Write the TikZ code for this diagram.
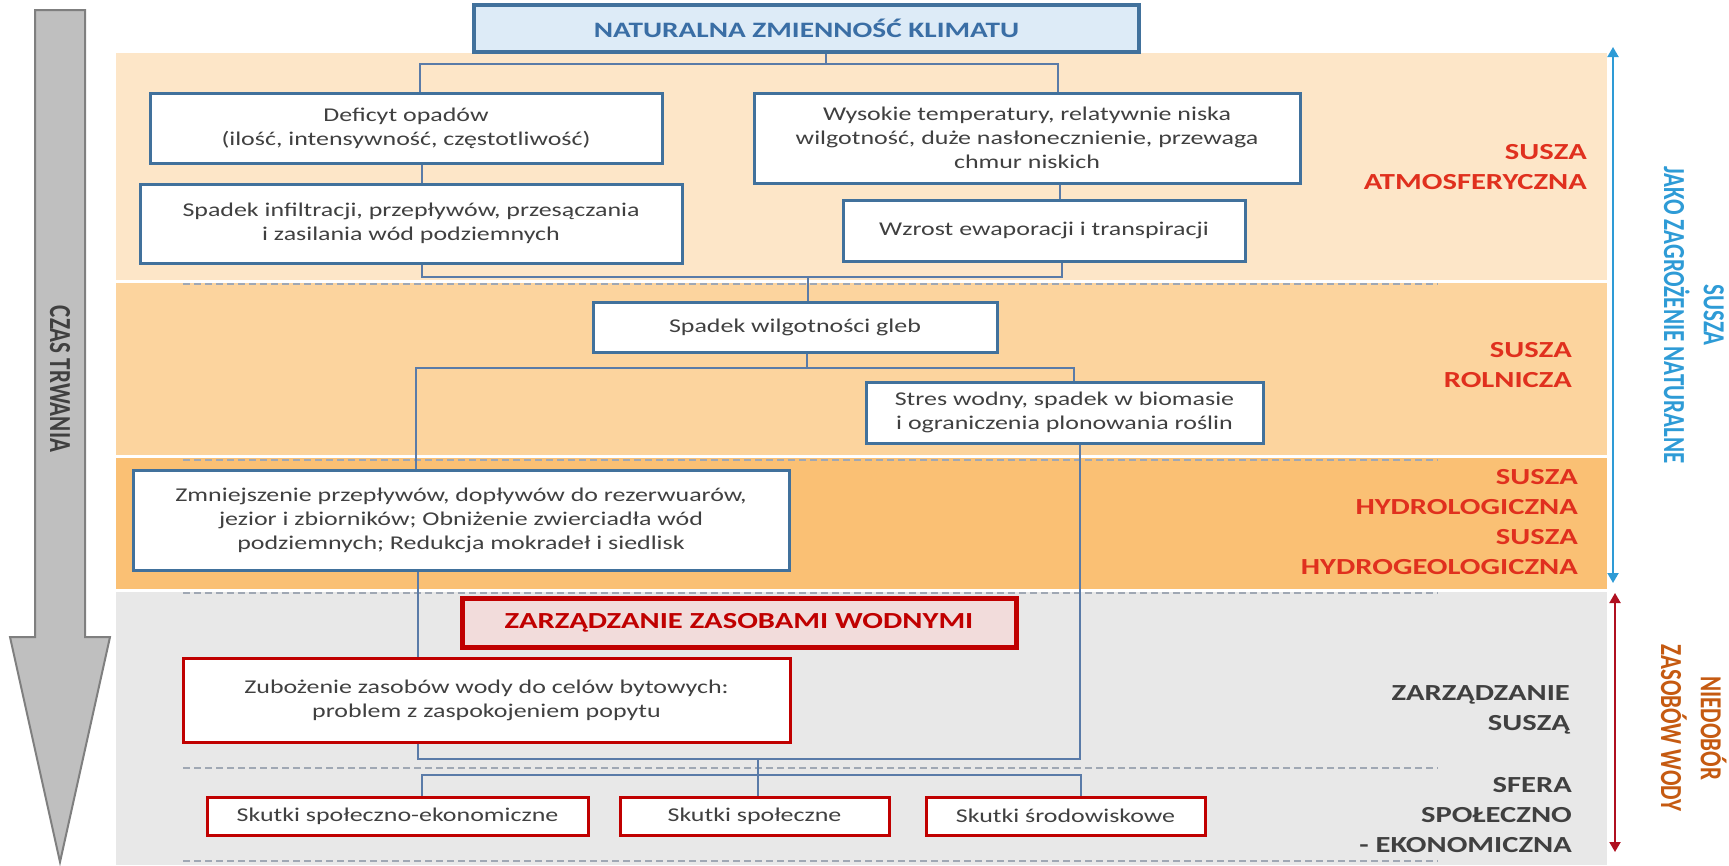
\documentclass[tikz,border=0pt]{standalone}
\usepackage{fontspec}
\setmainfont{Carlito}[FakeStretch=1.33]
\newfontfamily\rotfont{Carlito}
\usepackage{graphicx}
\usepackage{xcolor}
\usetikzlibrary{arrows.meta}
\definecolor{bandA}{HTML}{FDE6C8}
\definecolor{bandB}{HTML}{FCD49E}
\definecolor{bandC}{HTML}{FAC074}
\definecolor{bandD}{HTML}{E8E8E8}
\definecolor{boxblue}{HTML}{41719C}
\definecolor{titleblue}{HTML}{3A6EA5}
\definecolor{lightblue}{HTML}{DDEBF7}
\definecolor{darkred}{HTML}{C00000}
\definecolor{pinkfill}{HTML}{F2DCDB}
\definecolor{labelred}{HTML}{E0301E}
\definecolor{textgrey}{HTML}{404040}
\definecolor{linkblue}{HTML}{5A7BA8}
\definecolor{arrowblue}{HTML}{2E9BD6}
\definecolor{arrowred}{HTML}{B01020}
\definecolor{brownorange}{HTML}{C55A11}
\definecolor{shaftgrey}{HTML}{BFBFBF}
\definecolor{edgegrey}{HTML}{7F7F7F}
\definecolor{dashgrey}{HTML}{A0A8B4}

\begin{document}
\begin{tikzpicture}[x=1pt,y=-1pt]
\tikzstyle{every node}=[font=\fontsize{19.5}{24}\selectfont, text=textgrey, inner sep=0pt, align=center]
\tikzstyle{titlebox}=[draw=boxblue, line width=3.5pt, fill=lightblue, text=titleblue, font=\bfseries\fontsize{22}{26}\selectfont]
\tikzstyle{bluebox}=[draw=boxblue, line width=3pt, fill=white]
\tikzstyle{redbox}=[draw=darkred, line width=3pt, fill=white]
\tikzstyle{mgmtbox}=[draw=darkred, line width=5pt, fill=pinkfill, text=darkred, font=\bfseries\fontsize{23}{27}\selectfont]
\tikzstyle{link}=[draw=linkblue, line width=1.5pt]
\tikzstyle{bandline}=[draw=dashgrey, line width=1.5pt, dash pattern=on 7pt off 4pt]
\tikzstyle{phase}=[anchor=east, align=right, font=\bfseries\fontsize{23}{30}\selectfont]
\tikzstyle{sidetext}=[rotate=-90, font=\rotfont\bfseries\fontsize{23}{30}\selectfont]
\useasboundingbox (0,0) rectangle (1729,865);

% bands
\fill[bandA] (116,53) rectangle (1607,280);
\fill[bandB] (116,283) rectangle (1607,455);
\fill[bandC] (116,458) rectangle (1607,589);
\fill[bandD] (116,592) rectangle (1607,865);
\draw[bandline] (183,284) -- (1438,284);
\draw[bandline] (183,460) -- (1438,460);
\draw[bandline] (183,593) -- (1438,593);
\draw[bandline] (183,768) -- (1438,768);
\draw[bandline] (183,861) -- (1438,861);

% time arrow
\draw[draw=edgegrey, fill=shaftgrey, line width=2pt] (35,10) -- (85,10) -- (85,637) -- (110,637) -- (60,862) -- (10,637) -- (35,637) -- cycle;
\node[sidetext] (czas) at (60,379) {\scalebox{1}[1.33]{CZAS TRWANIA}};

% boxes
\node[titlebox, minimum width=665, minimum height=47] (klimat) at (806.5,28.5) {NATURALNA ZMIENNOŚĆ KLIMATU};
\node[bluebox, minimum width=512, minimum height=70] (opady) at (406,128) {Deficyt opadów\\(ilość, intensywność, częstotliwość)};
\node[bluebox, minimum width=542, minimum height=79] (infiltracja) at (411,223.5) {Spadek infiltracji, przepływów, przesączania\\i zasilania wód podziemnych};
\node[bluebox, minimum width=546, minimum height=90] (temperatura) at (1027,138) {Wysokie temperatury, relatywnie niska\\wilgotność, duże nasłonecznienie, przewaga\\chmur niskich};
\node[bluebox, minimum width=402, minimum height=61] (ewaporacja) at (1044,230.5) {Wzrost ewaporacji i transpiracji};
\node[bluebox, minimum width=404, minimum height=50] (gleba) at (795,327) {Spadek wilgotności gleb};
\node[bluebox, minimum width=397, minimum height=61] (stres) at (1064.5,412.5) {Stres wodny, spadek w biomasie\\i ograniczenia plonowania roślin};
\node[bluebox, minimum width=656, minimum height=100] (przeplywy) at (461,520) {Zmniejszenie przepływów, dopływów do rezerwuarów,\\jezior i zbiorników; Obniżenie zwierciadła wód\\podziemnych; Redukcja mokradeł i siedlisk};
\node[mgmtbox, minimum width=554, minimum height=49] (zarzadzanie) at (739,622.5) {ZARZĄDZANIE ZASOBAMI WODNYMI};
\node[redbox, minimum width=607, minimum height=84] (zubozenie) at (486.5,700) {Zubożenie zasobów wody do celów bytowych:\\problem z zaspokojeniem popytu};
\node[redbox, minimum width=381, minimum height=38] (ekonomia) at (397.5,816) {Skutki społeczno-ekonomiczne};
\node[redbox, minimum width=269, minimum height=38] (spoleczne) at (754.5,816) {Skutki społeczne};
\node[redbox, minimum width=279, minimum height=38] (srodowisko) at (1065.5,816) {Skutki środowiskowe};

% connectors
\coordinate (k) at (826,64);
\draw[link] ([xshift=19.5]klimat.south) -- (k);
\draw[link] ([xshift=14]opady.north) |- (k) -| ([xshift=31]temperatura.north);
\draw[link] ([xshift=16]opady.south) -- ([xshift=16]opady.south |- infiltracja.north);
\draw[link] ([xshift=33]temperatura.south) -- ([xshift=33]temperatura.south |- ewaporacja.north);
\coordinate (g) at (808,277);
\draw[link] ([xshift=11]infiltracja.south) |- (g) -| ([xshift=18]ewaporacja.south);
\draw[link] (g) -- (g |- gleba.north);
\coordinate (s) at (807,368);
\draw[link] ([xshift=12]gleba.south) -- (s);
\draw[link] ([xshift=-45]przeplywy.north) |- (s) -| ([xshift=9.5]stres.north);
\draw[link] ([xshift=-43]przeplywy.south) -- ([xshift=-43]przeplywy.south |- zubozenie.north);
\coordinate (z) at (758,759);
\draw[link] ([xshift=-68.5]zubozenie.south) |- (z);
\draw[link] ([xshift=15.5]stres.south) |- (z);
\coordinate (t) at (758,775);
\draw[link] (z) -- (t);
\draw[link] ([xshift=24.5]ekonomia.north) |- (t) -| ([xshift=15.5]srodowisko.north);
\draw[link] (t) -- (t |- spoleczne.north);

% phase labels
\node[phase, text=labelred] (atmo) at (1587,167) {SUSZA\\ATMOSFERYCZNA};
\node[phase, text=labelred] (rolnicza) at (1572,365) {SUSZA\\ROLNICZA};
\node[phase, text=labelred] (hydro) at (1578,522) {SUSZA\\HYDROLOGICZNA\\SUSZA\\HYDROGEOLOGICZNA};
\node[phase, text=textgrey] (susza) at (1570,710) {ZARZĄDZANIE\\SUSZĄ};
\node[phase, text=textgrey] (sfera) at (1572,815) {SFERA\\SPOŁECZNO\\- EKONOMICZNA};

% side arrows
\coordinate (n1) at (1613,47);
\coordinate (n2) at (1613,583);
\draw [<->, >={Triangle[length=10pt,width=11pt]}, draw=arrowblue, line width=2pt] (n1) -- (n2);
\coordinate (w1) at (1615,593);
\draw [<->, >={Triangle[length=10pt,width=11pt]}, draw=arrowred, line width=2pt] (w1) -- (1615,852);
\node[sidetext, text=arrowblue] (zagrozenie) at (1692,315) {\scalebox{1}[1.33]{\begin{tabular}{@{}c@{}}SUSZA\\JAKO ZAGROŻENIE NATURALNE\end{tabular}}};
\node[sidetext, text=brownorange] (niedobor) at (1689,728) {\scalebox{1}[1.33]{\begin{tabular}{@{}c@{}}NIEDOBÓR\\ZASOBÓW WODY\end{tabular}}};
\end{tikzpicture}
\end{document}
